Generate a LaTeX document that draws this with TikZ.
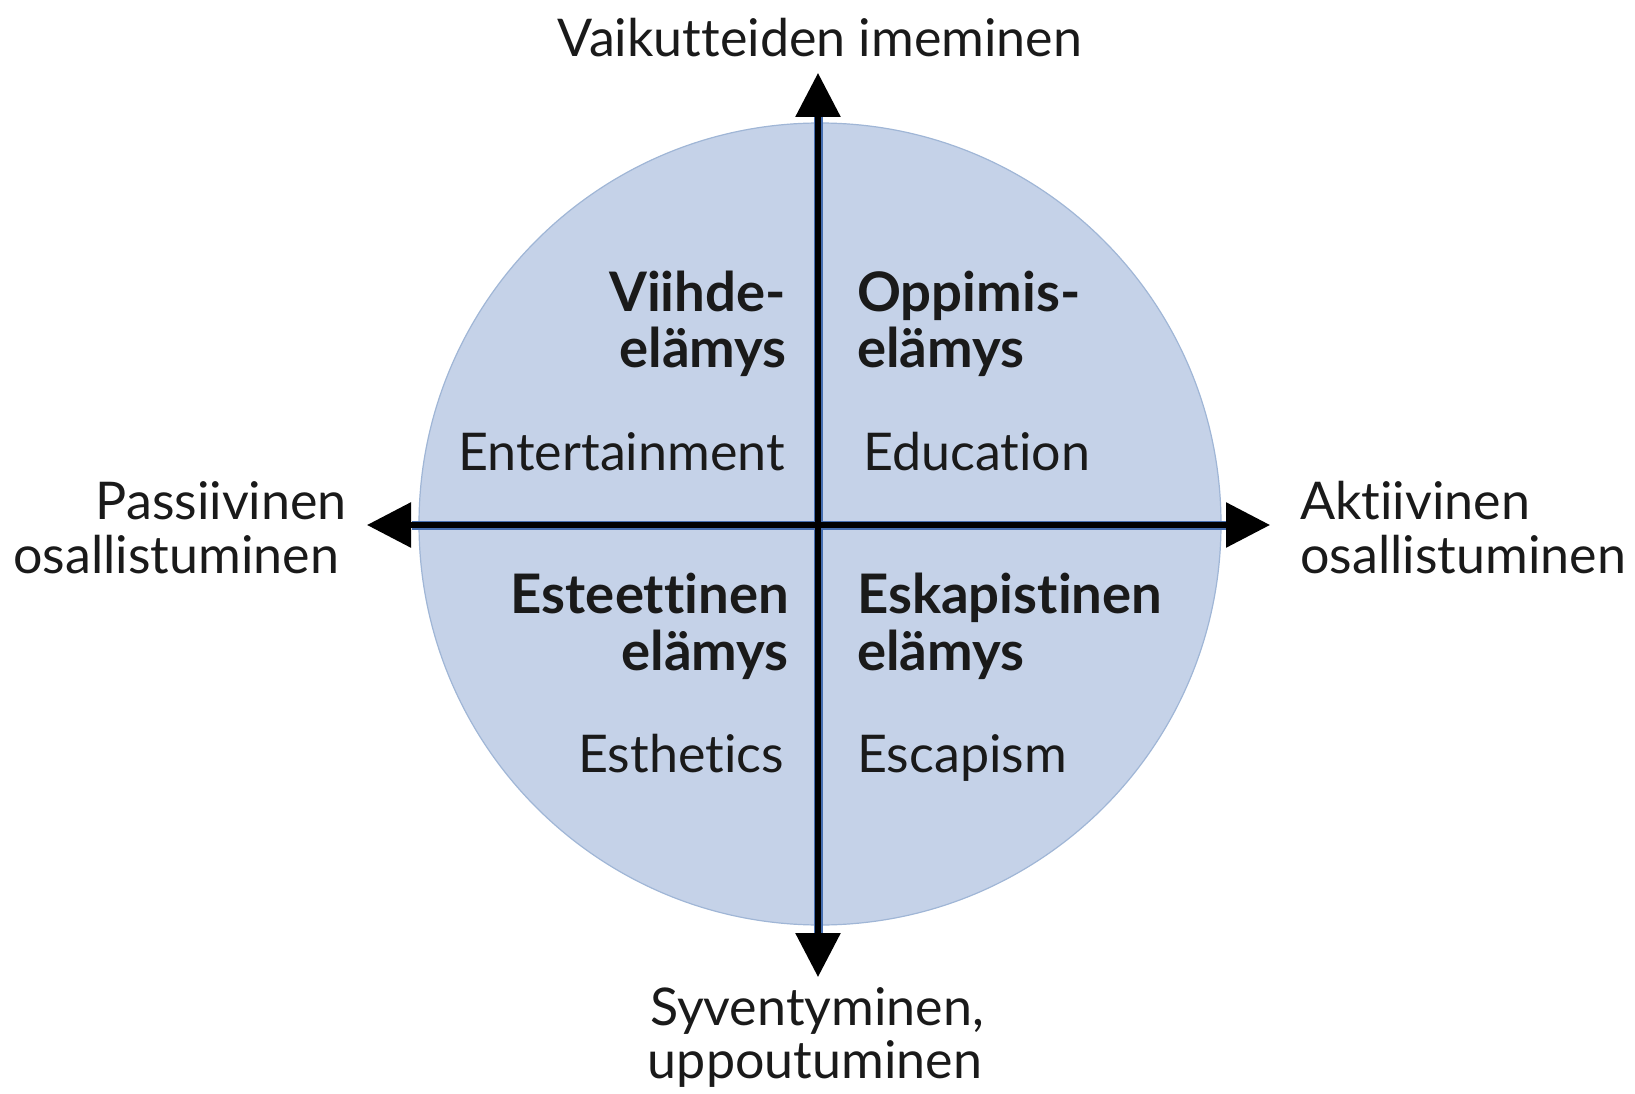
\documentclass[tikz,border=0pt]{standalone}
\usepackage{fontspec}
\setmainfont{Lato}[Ligatures={NoCommon,NoRare}]
\usetikzlibrary{arrows.meta}
\definecolor{discfill}{RGB}{197,210,232}
\definecolor{discedge}{RGB}{160,182,214}
\definecolor{axisedge}{RGB}{70,110,175}
\definecolor{ink}{RGB}{26,26,26}
\begin{document}
\begin{tikzpicture}[x=1pt,y=-1pt,
  lbl/.style={inner sep=0pt,text=ink,font=\fontsize{52}{58}\selectfont},
  head/.style={inner sep=0pt,text=ink,font=\fontsize{54.5}{60}\bfseries\selectfont},
  axisunder/.style={line width=9pt,draw=axisedge},
  axisline/.style={line width=6pt,draw=black},
  tip/.style={-{Triangle[length=44pt,width=44pt]}}]
\useasboundingbox (0,0) rectangle (1635,1094);

% disc
\fill[discfill,draw=discedge,line width=1.2pt] (820,524) circle[radius=401];

% axis end points
\coordinate (top) at (818,73);
\coordinate (bot) at (818,977);
\coordinate (lft) at (367,525);
\coordinate (rgt) at (1270,525);
\coordinate (mid) at (818,525);

% axes: blue rim under a black core, arrowheads at all four ends
\draw[axisunder] (818,117) -- (818,933);
\draw[axisunder] (412,525) -- (1226,525);
\draw[axisline,tip] (mid) -- (top);
\draw[axisline,tip] (mid) -- (bot);
\draw[axisline,tip] (mid) -- (lft);
\draw[axisline,tip] (mid) -- (rgt);

% axis labels
\node[lbl,anchor=base] (ttl) at (820,57) {Vaikutteiden imeminen};
\node[lbl,anchor=base east] (pas1) at (347,519) {Passiivinen};
\node[lbl,anchor=base west] (pas2) at (13,573) {osallistuminen};
\node[lbl,anchor=base west] (akt1) at (1300,519) {Aktiivinen};
\node[lbl,anchor=base west] (akt2) at (1300,573) {osallistuminen};
\node[lbl,anchor=base] (syv1) at (817,1025) {Syventyminen,};
\node[lbl,anchor=base] (syv2) at (815,1078) {uppoutuminen};

% quadrant labels
\node[head,anchor=base east] (vi1) at (786,311) {Viihde-};
\node[head,anchor=base east] (vi2) at (787,367) {elämys};
\node[lbl,anchor=base east] (vi3) at (785,470) {Entertainment};

\node[head,anchor=base west] (op1) at (857,311) {Oppimis-};
\node[head,anchor=base west] (op2) at (857,367) {elämys};
\node[lbl,anchor=base west] (op3) at (863,470) {Education};

\node[head,anchor=base east] (es1) at (789,613) {Esteettinen};
\node[head,anchor=base east] (es2) at (789,670) {elämys};
\node[lbl,anchor=base east] (es3) at (784,772) {Esthetics};

\node[head,anchor=base west] (ek1) at (857,613) {Eskapistinen};
\node[head,anchor=base west] (ek2) at (857,670) {elämys};
\node[lbl,anchor=base west] (ek3) at (857,772) {Escapism};
\end{tikzpicture}
\end{document}
